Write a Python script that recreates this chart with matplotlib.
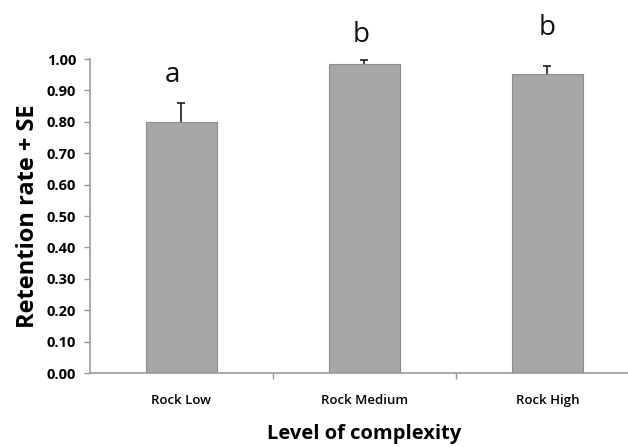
import matplotlib.pyplot as plt
import numpy as np

# ---- data ----
categories = ['Rock Low', 'Rock Medium', 'Rock High']
retention = [0.80, 0.985, 0.952]
se = [0.061, 0.011, 0.026]
letters = ['a', 'b', 'b']

BAR_COLOR = '#a7a7a9'
AXIS_COLOR = '#9a9a9a'

plt.rcParams['font.family'] = ['Open Sans', 'DejaVu Sans']

fig = plt.figure(figsize=(6.28, 4.47), dpi=100)
ax = fig.add_axes([0.1433, 0.1655, 0.874, 0.7025])

x = np.arange(len(categories))
ax.bar(x, retention, width=0.39, color=BAR_COLOR, edgecolor='#8c8c8e', linewidth=0.8)
# upper error bar only (+SE)
_, caps, _ = ax.errorbar(x, retention, yerr=[np.zeros(len(se)), se], fmt='none',
                         ecolor='#1a1a1a', elinewidth=1.2, capsize=3, capthick=1.2,
                         clip_on=False)
caps[0].set_visible(False)

# significance letters above each bar
letter_y = [0.95, 1.076, 1.10]
letter_dx = [-0.05, -0.02, 0.0]
for xi, lt, ly, dx in zip(x, letters, letter_y, letter_dx):
    ax.text(xi + dx, ly, lt, ha='center', va='center', fontsize=20, color='#111111')

ax.set_xlim(-0.5, 2.5)
ax.set_ylim(0, 1.0)
ax.set_yticks(np.arange(0, 1.01, 0.1))
ax.set_yticklabels(['%.2f' % v for v in np.arange(0, 1.01, 0.1)],
                   fontsize=10.5, fontweight='bold')
ax.set_xticks(x)
ax.set_xticklabels(categories, fontsize=9.5, fontweight='semibold')
ax.set_xticks([0.5, 1.5], minor=True)

ax.tick_params(axis='y', direction='out', length=4, width=1, color=AXIS_COLOR, pad=6)
ax.tick_params(axis='x', which='major', length=0, pad=15)
ax.tick_params(axis='x', which='minor', direction='out', length=4, width=1, color=AXIS_COLOR)

for side in ['top', 'right']:
    ax.spines[side].set_visible(False)
for side in ['left', 'bottom']:
    ax.spines[side].set_color(AXIS_COLOR)
    ax.spines[side].set_linewidth(1.2)

ax.set_ylabel('Retention rate + SE', fontsize=17, fontweight='bold', labelpad=5)
ax.set_xlabel('Level of complexity', fontsize=14.5, fontweight='bold', labelpad=12)

fig.savefig('out.png', dpi=100)
